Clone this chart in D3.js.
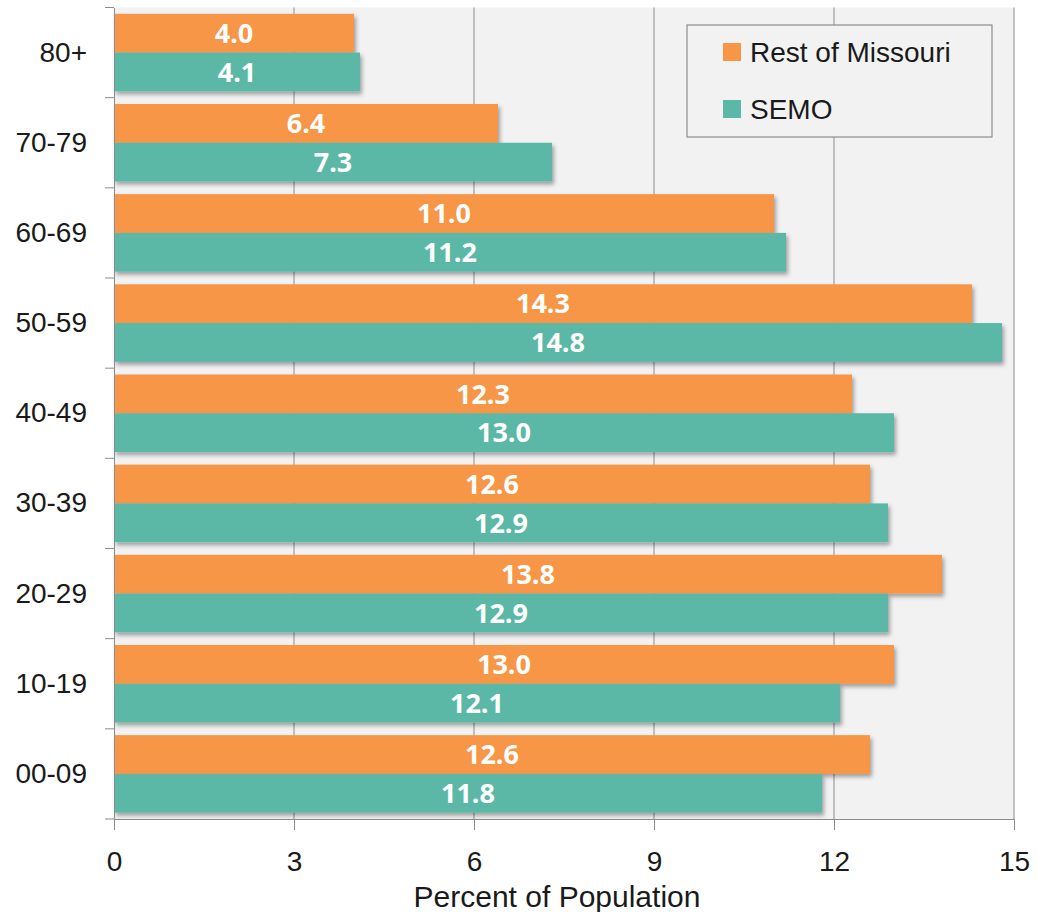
<!DOCTYPE html>
<html>
<head>
<meta charset="utf-8">
<script src="https://cdn.jsdelivr.net/npm/d3@7"></script>
<style>
  html, body { margin: 0; padding: 0; background: #ffffff; }
  svg { display: block; }
</style>
</head>
<body>
<svg id="chart" width="1037" height="912"></svg>
<script>
// Age groups, top to bottom
const ageGroups = ["80+", "70-79", "60-69", "50-59", "40-49", "30-39", "20-29", "10-19", "00-09"];
const seriesNames = ["Rest of Missouri", "SEMO"];
const restOfMissouri = [4.0, 6.4, 11.0, 14.3, 12.3, 12.6, 13.8, 13.0, 12.6];
const semo = [4.1, 7.3, 11.2, 14.8, 13.0, 12.9, 12.9, 12.1, 11.8];
const xTicks = [0, 3, 6, 9, 12, 15];
const colors = ["#F79646", "#5BB8A6"];

const axisFont = "'Liberation Sans', Arial, sans-serif";
const labelFont = "'Open Sans', Lato, sans-serif";
const textColor = "#1a1a1a";
const lineColor = "#8c8c8c";

const svg = d3.select("#chart");
const margin = { left: 114, right: 23, top: 7.5, bottom: 93 };
const width = 1037, height = 912;
const plotW = width - margin.left - margin.right;
const plotH = height - margin.top - margin.bottom;

const x = d3.scaleLinear().domain([0, 15]).range([0, plotW]);
const y = d3.scaleBand().domain(ageGroups).range([0, plotH]).paddingInner(0.14).paddingOuter(0.07);
const ySub = d3.scaleBand().domain(seriesNames).range([0, y.bandwidth()]);

// Drop shadow for bars
const defs = svg.append("defs");
const f = defs.append("filter").attr("id", "shadow").attr("x", "-5%").attr("y", "-20%").attr("width", "115%").attr("height", "150%");
f.append("feDropShadow").attr("dx", 2).attr("dy", 3).attr("stdDeviation", 2)
  .attr("flood-color", "#000").attr("flood-opacity", 0.35);

const g = svg.append("g").attr("transform", `translate(${margin.left},${margin.top})`);

// Plot background
g.append("rect").attr("x", 0).attr("y", 0).attr("width", plotW).attr("height", plotH).attr("fill", "#f2f2f2");

// Vertical gridlines
g.append("g").selectAll("line").data(xTicks.slice(1)).join("line")
  .attr("x1", d => x(d)).attr("x2", d => x(d))
  .attr("y1", 0).attr("y2", plotH)
  .attr("stroke", lineColor).attr("stroke-width", 1);

// Bars
const rows = ageGroups.map((a, i) => ({ age: a, values: [restOfMissouri[i], semo[i]] }));
const groups = g.append("g").selectAll("g").data(rows).join("g")
  .attr("transform", d => `translate(0,${y(d.age)})`);

groups.selectAll("rect").data(d => d.values.map((v, j) => ({ name: seriesNames[j], v, j }))).join("rect")
  .attr("x", 0)
  .attr("y", d => ySub(d.name))
  .attr("width", d => x(d.v))
  .attr("height", ySub.bandwidth())
  .attr("fill", d => colors[d.j])
  .attr("filter", "url(#shadow)");

groups.selectAll("text").data(d => d.values.map((v, j) => ({ name: seriesNames[j], v, j }))).join("text")
  .attr("x", d => x(d.v) / 2)
  .attr("y", d => ySub(d.name) + ySub.bandwidth() / 2)
  .attr("dy", "0.36em")
  .attr("text-anchor", "middle")
  .attr("fill", "#ffffff")
  .attr("font-family", labelFont)
  .attr("font-weight", "bold")
  .attr("font-size", 27)
  .text(d => d.v.toFixed(1));

// Y axis
const yAxis = g.append("g")
  .call(d3.axisLeft(y).tickSize(0).tickPadding(27));
yAxis.select(".domain").attr("stroke", lineColor);
yAxis.selectAll("text").attr("font-family", axisFont).attr("font-size", 28).attr("fill", textColor);
// Category boundary ticks
const bounds = d3.range(ageGroups.length + 1).map(i => i * plotH / ageGroups.length);
g.append("g").selectAll("line").data(bounds).join("line")
  .attr("x1", -9).attr("x2", 0).attr("y1", d => d).attr("y2", d => d)
  .attr("stroke", lineColor);

// X axis
const xAxis = g.append("g").attr("transform", `translate(0,${plotH})`)
  .call(d3.axisBottom(x).tickValues(xTicks).tickSize(11).tickPadding(21).tickFormat(d3.format("d")));
xAxis.select(".domain").attr("stroke", lineColor);
xAxis.selectAll("line").attr("stroke", lineColor);
xAxis.selectAll("text").attr("font-family", axisFont).attr("font-size", 28).attr("fill", textColor);

// X axis title
svg.append("text")
  .attr("x", 557)
  .attr("y", 907)
  .attr("text-anchor", "middle")
  .attr("font-family", axisFont)
  .attr("font-size", 30)
  .attr("fill", textColor)
  .text("Percent of Population");

// Legend
const legend = svg.append("g").attr("transform", "translate(687,25)");
legend.append("rect").attr("width", 305).attr("height", 112)
  .attr("fill", "#f2f2f2").attr("stroke", lineColor).attr("stroke-width", 1.2);
seriesNames.forEach((name, i) => {
  const row = legend.append("g").attr("transform", `translate(36,${18 + i * 57})`);
  row.append("rect").attr("width", 18).attr("height", 18).attr("fill", colors[i]);
  row.append("text").attr("x", 27).attr("y", 9).attr("dy", "0.36em")
    .attr("font-family", axisFont)
    .attr("font-size", 28).attr("fill", textColor)
    .text(name);
});
</script>
</body>
</html>
